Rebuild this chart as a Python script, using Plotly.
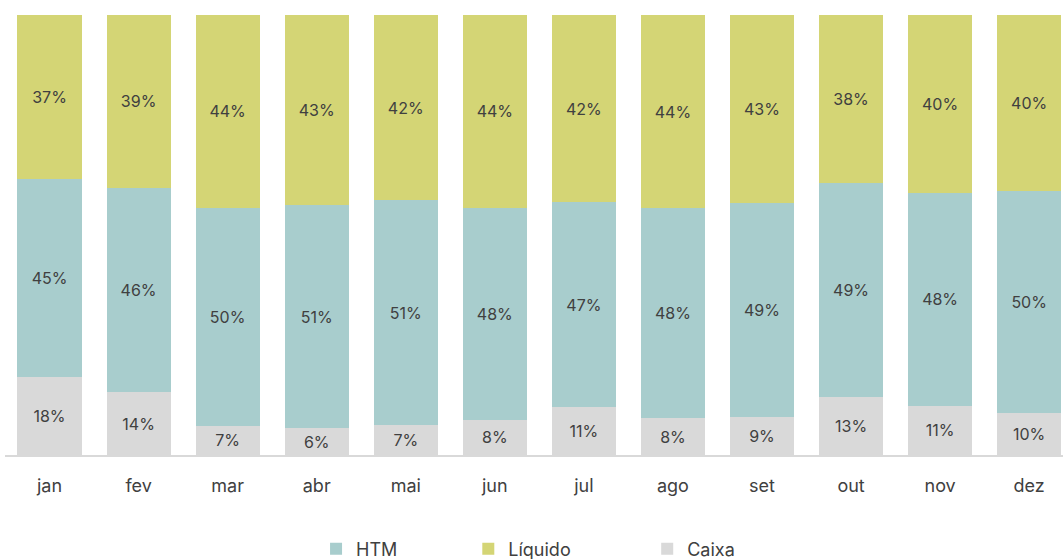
import plotly.graph_objects as go

months = ["jan", "fev", "mar", "abr", "mai", "jun", "jul", "ago", "set", "out", "nov", "dez"]
caixa = [0.178, 0.143, 0.066, 0.061, 0.068, 0.080, 0.109, 0.084, 0.086, 0.132, 0.112, 0.096]
htm = [0.450, 0.464, 0.496, 0.507, 0.511, 0.482, 0.466, 0.477, 0.486, 0.486, 0.484, 0.504]
liquido = [0.372, 0.393, 0.438, 0.432, 0.421, 0.438, 0.425, 0.439, 0.428, 0.382, 0.404, 0.400]

FONT = "Inter"
TXT = "#404040"
colors = {"Caixa": "#D9D9D9", "HTM": "#A8CDCD", "Líquido": "#D4D575"}

fig = go.Figure()
series = [("Caixa", caixa, 3, "legend3"), ("HTM", htm, 1, "legend"), ("Líquido", liquido, 2, "legend2")]
for name, vals, rank, leg in series:
    fig.add_trace(go.Bar(
        x=months, y=vals, name=name,
        marker=dict(color=colors[name], line=dict(width=0)),
        text=[f"{round(v*100):d}%" for v in vals],
        textposition="inside", insidetextanchor="middle", textangle=0,
        constraintext="none",
        textfont=dict(family=FONT, size=16, color=TXT),
        legendrank=rank, legend=leg, showlegend=True,
    ))

legend_common = dict(orientation="h", yanchor="middle", y=-0.2136, xanchor="left",
                     font=dict(family=FONT, size=18, color=TXT), bgcolor="rgba(0,0,0,0)")

fig.update_layout(
    barmode="stack", bargap=0.28,
    width=1063, height=559, showlegend=True,
    margin=dict(l=4.5, r=0, t=15, b=104, autoexpand=False),
    paper_bgcolor="white", plot_bgcolor="white",
    legend=dict(x=0.294, **legend_common),
    legend2=dict(x=0.4379, **legend_common),
    legend3=dict(x=0.607, **legend_common),
    xaxis=dict(range=[-0.5, 11.38], showgrid=False, showline=True, linecolor="#D9D9D9", linewidth=2,
               ticks="", ticklabelstandoff=13, automargin=False,
               tickfont=dict(family=FONT, size=18, color=TXT)),
    yaxis=dict(range=[0, 1], visible=False, showgrid=False, automargin=False),
)
fig.write_html("out.html")
